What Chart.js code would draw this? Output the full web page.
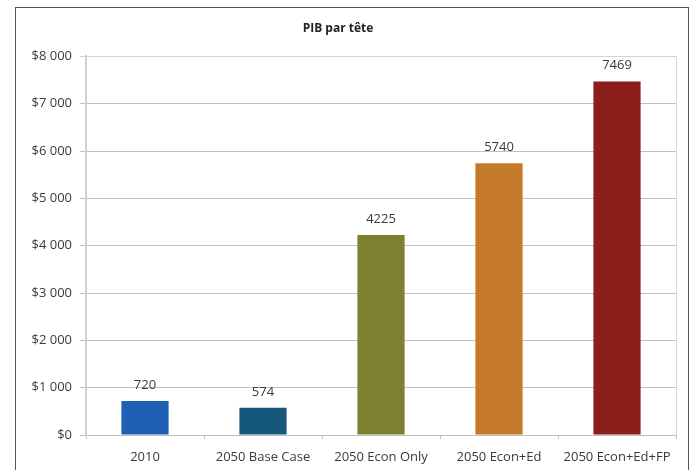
<!DOCTYPE html>
<html>
<head>
<meta charset="utf-8">
<script src="https://cdn.jsdelivr.net/npm/chart.js@4"></script>
<style>
  html, body { margin: 0; padding: 0; background: #fff; }
  #wrap { position: relative; width: 694px; height: 470px; }
  #frame { position: absolute; left: 15px; top: 7px; width: 672px; height: 470px; border: 1px solid #555; border-bottom: none; }
  canvas { position: absolute; left: 0; top: 0; }
</style>
</head>
<body>
<div id="wrap">
  <div id="frame"></div>
  <canvas id="chart" width="694" height="470"></canvas>
</div>
<script>
// PIB par tête
const categories = ['2010', '2050 Base Case', '2050 Econ Only', '2050 Econ+Ed', '2050 Econ+Ed+FP'];
const values = [720, 574, 4225, 5740, 7469];
const barColors = ['#1f5fb4', '#16587a', '#7e802f', '#c47a29', '#8a1e1a'];
const yTicks = [0, 1000, 2000, 3000, 4000, 5000, 6000, 7000, 8000];

const FONT = '"Open Sans", sans-serif';

// "$8 000" style tick labels
const money = v => '$' + (v >= 1000 ? Math.floor(v / 1000) + ' ' + String(v % 1000).padStart(3, '0') : v);

// value labels above bars
const barLabels = {
    id: 'barLabels',
    afterDatasetsDraw(chart) {
        const ctx = chart.ctx;
        const meta = chart.getDatasetMeta(0);
        ctx.save();
        ctx.font = '13px ' + FONT;
        ctx.fillStyle = '#3a3a3a';
        ctx.textAlign = 'center';
        ctx.textBaseline = 'middle';
        meta.data.forEach((bar, i) => {
            ctx.fillText(String(values[i]), bar.x, bar.y - 16);
        });
        ctx.restore();
    }
};

// light frame on the right side of the plot area
const plotEdge = {
    id: 'plotEdge',
    beforeDatasetsDraw(chart) {
        const a = chart.chartArea;
        const ctx = chart.ctx;
        ctx.save();
        ctx.strokeStyle = '#d4d6e4';
        ctx.lineWidth = 1;
        ctx.beginPath();
        ctx.moveTo(a.right + 0.5, a.top);
        ctx.lineTo(a.right + 0.5, a.bottom);
        ctx.stroke();
        ctx.restore();
    }
};

new Chart(document.getElementById('chart'), {
    type: 'bar',
    data: {
        labels: categories,
        datasets: [{
            data: values,
            backgroundColor: barColors,
            borderWidth: 0,
            categoryPercentage: 1,
            barPercentage: 0.4
        }]
    },
    options: {
        responsive: false,
        animation: false,
        devicePixelRatio: 1,
        layout: { padding: { left: 0, right: 18, top: 0, bottom: 0 } },
        plugins: {
            legend: { display: false },
            tooltip: { enabled: false },
            title: {
                display: true,
                text: 'PIB par tête',
                color: '#222',
                font: { family: FONT, size: 12, weight: 'bold' },
                padding: { top: 21, bottom: 21 }
            }
        },
        scales: {
            x: {
                grid: { drawOnChartArea: false, drawTicks: true, tickLength: 4, color: '#c0c0c0' },
                border: { color: '#c0c0c0', width: 1 },
                ticks: { color: '#3a3a3a', font: { family: FONT, size: 13 }, padding: 10, maxRotation: 0, autoSkip: false },
                afterFit(scale) { scale.height = 35; }
            },
            y: {
                min: 0,
                max: 8000,
                afterBuildTicks(scale) { scale.ticks = yTicks.map(v => ({ value: v })); },
                grid: { color: ctx => ctx.tick && ctx.tick.value === 8000 ? '#d0d2e2' : '#c0c0c0', tickLength: 6 },
                border: { color: '#d0d0d0', width: 2 },
                ticks: { color: '#3a3a3a', font: { family: FONT, size: 13 }, padding: 8, callback: v => money(v) },
                afterFit(scale) { scale.width = 86; }
            }
        }
    },
    plugins: [barLabels, plotEdge]
});
</script>
</body>
</html>
